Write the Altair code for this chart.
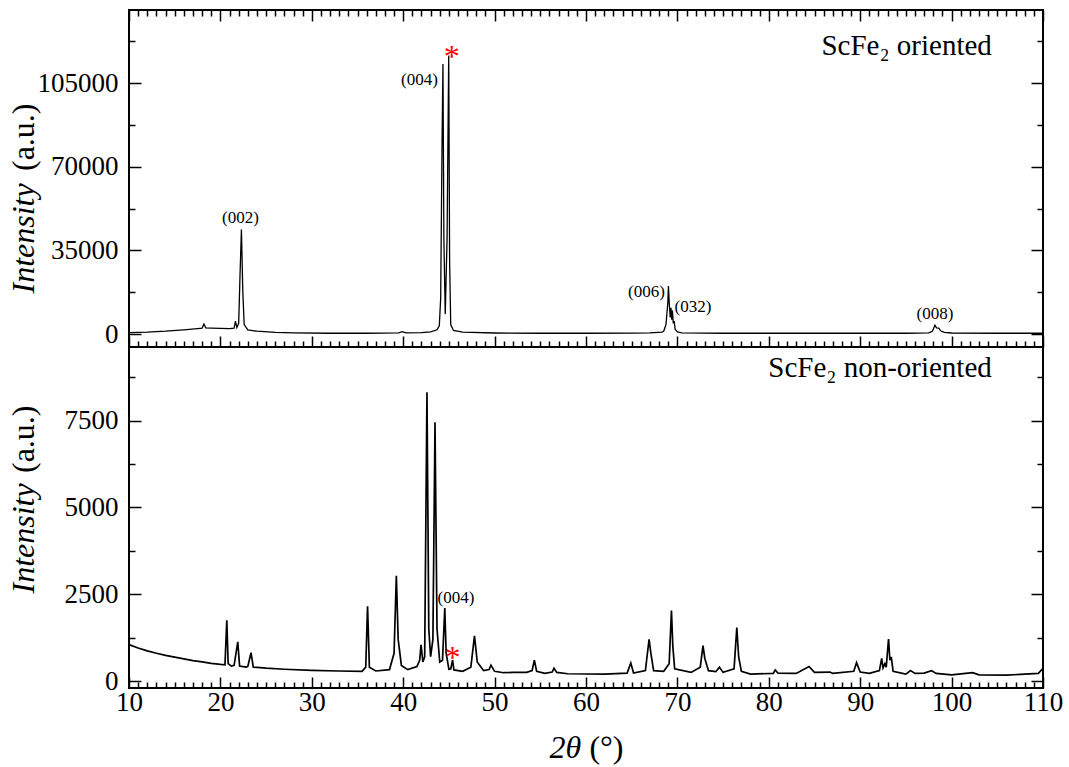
import altair as alt
import pandas as pd

FONT = "Liberation Serif"

# ---------------- ScFe2 oriented (top panel) ----------------
ori_x = [10.0, 12.0, 14.0, 16.0, 17.5, 18.0, 18.2, 18.4, 19.0, 20.0,
         21.0, 21.5, 21.65, 21.8, 22.0, 22.15, 22.3, 22.45, 22.6, 23.0,
         24.0, 26.0, 28.0, 32.0, 36.0, 39.5, 39.9, 40.3, 42.0, 43.0,
         43.7, 43.95, 44.1, 44.25, 44.35, 44.45, 44.6, 44.8, 44.98, 45.08,
         45.2, 45.5, 46.5, 50.0, 55.0, 60.0, 65.0, 67.0, 68.3, 68.5,
         68.75, 68.95, 69.02, 69.12, 69.22, 69.3, 69.38, 69.45, 69.55, 69.65,
         69.75, 70.0, 70.5, 75.0, 85.0, 95.0, 97.5, 97.9, 98.18, 98.35,
         98.6, 98.8, 99.2, 100.0, 105.0, 110.0]
ori_y = [600, 800, 1200, 1800, 2300, 2500, 4200, 2600, 2500, 2400,
         2300, 2500, 5400, 2700, 4500, 25000, 43800, 18000, 4000, 1800,
         1200, 700, 500, 350, 350, 500, 1000, 550, 650, 900,
         1800, 3500, 15000, 80000, 113000, 40000, 8300, 40000, 116600, 30000,
         4000, 1500, 800, 450, 350, 350, 400, 500, 800, 1200,
         4000, 13000, 20100, 12000, 7000, 11000, 6000, 10000, 4500, 5500,
         2000, 900, 500, 350, 350, 350, 500, 1200, 3700, 2600,
         2500, 1400, 700, 450, 350, 350]

# ---------------- ScFe2 non-oriented (bottom panel) ----------------
non_x = [10.0, 11.0, 12.0, 13.0, 14.0, 15.0, 16.0, 17.0, 18.0, 19.0,
         20.0, 20.5, 20.7, 20.85, 21.2, 21.5, 21.9, 22.1, 22.8, 23.0,
         23.35, 23.6, 25.0, 27.0, 30.0, 33.0, 35.5, 35.9, 36.1, 36.3,
         37.0, 38.5, 39.0, 39.25, 39.45, 39.8, 40.5, 41.5, 41.8, 41.95,
         42.15, 42.35, 42.6, 42.8, 43.0, 43.25, 43.48, 43.7, 44.0, 44.3,
         44.55, 44.7, 45.0, 45.2, 45.4, 45.55, 46.5, 47.4, 47.8, 48.1,
         48.8, 49.4, 49.6, 50.0, 51.0, 52.0, 53.5, 54.1, 54.35, 54.6,
         55.5, 56.3, 56.5, 56.8, 58.0, 62.0, 64.5, 64.9, 65.2, 66.5,
         66.9, 67.1, 67.4, 68.5, 69.1, 69.35, 69.5, 69.7, 71.5, 72.5,
         72.8, 73.0, 73.4, 74.2, 74.6, 75.0, 76.2, 76.5, 76.7, 77.0,
         78.0, 80.5, 80.7, 81.0, 83.0, 84.4, 85.0, 86.7, 87.0, 89.3,
         89.6, 90.0, 91.0, 92.1, 92.35, 92.5, 92.7, 92.85, 93.1, 93.25,
         93.4, 93.6, 95.0, 95.5, 96.0, 97.0, 97.8, 98.3, 100.0, 102.3,
         103.0, 106.0, 108.0, 109.5, 110.0]
non_y = [1050, 950, 870, 800, 740, 690, 640, 590, 550, 510,
         480, 470, 1750, 500, 430, 450, 1130, 430, 400, 420,
         820, 400, 370, 340, 310, 290, 280, 400, 2150, 400,
         290, 330, 800, 3030, 1200, 450, 330, 420, 600, 1040,
         550, 700, 8320, 1500, 700, 1200, 7450, 1500, 550, 600,
         2100, 800, 340, 350, 600, 320, 280, 400, 1300, 550,
         300, 330, 460, 280, 240, 250, 250, 300, 600, 280,
         220, 260, 370, 250, 210, 200, 230, 520, 230, 300,
         1200, 800, 300, 280, 500, 2030, 1000, 350, 250, 400,
         1020, 650, 300, 270, 400, 250, 350, 1540, 700, 280,
         200, 220, 320, 230, 220, 420, 250, 260, 220, 280,
         530, 260, 220, 300, 650, 380, 500, 400, 1210, 600,
         700, 280, 200, 300, 220, 230, 300, 220, 180, 240,
         180, 170, 200, 220, 370]

# ---------------- axes ----------------
x_major = [10, 20, 30, 40, 50, 60, 70, 80, 90, 100, 110]
x_minor = [v for v in range(11, 110) if v % 10 != 0]
ori_major = [0, 35000, 70000, 105000]
ori_minor = [17500, 52500, 87500, 122500]
non_major = [0, 2500, 5000, 7500]
non_minor = [1250, 3750, 6250, 8750]
ori_domain = [-5400, 135600]
non_domain = [-200, 9620]

# ---------------- annotations ----------------
ori_lab_text = ["(002)", "(004)", "(006)", "(032)", "(008)"]
ori_lab_x = [22.2, 41.78, 66.62, 71.71, 98.18]
ori_lab_y = [48400, 106180, 17520, 11140, 8340]
ori_star_x = [45.3]
ori_star_y = [117650]
non_lab_text = ["(004)"]
non_lab_x = [45.78]
non_lab_y = [2386]
non_star_x = [45.4]
non_star_y = [780]
names = ["ScFe\u2082 oriented", "ScFe\u2082 non-oriented"]
name_x = [104.4, 104.4]
name_y = [116800, 8770]


def axis(orient, values, size, labels=False, **kw):
    kw.setdefault("title", None)
    return alt.Axis(orient=orient, values=values,
                    tickSize=alt.ExprRef(expr=str(-size)),
                    ticks=True, domain=False, grid=False, labels=labels,
                    tickColor="black", tickWidth=1.5, labelFlush=False, **kw)


def label_style():
    return dict(labelFont=FONT, labelFontSize=27, labelColor="black", format="d")


def title_style(italic):
    return dict(titleFont=FONT, titleFontSize=32, titleFontWeight="normal",
                titleFontStyle="italic" if italic else "normal", titleColor="black")


def panel(xs, ys, ydom, ymaj, ymin, bottom, height, labs, star, name,
          ytitle_y1, ytitle_y2, lw):
    df = pd.DataFrame({"x": xs, "y": ys})
    xsc = alt.Scale(domain=[10, 110], nice=False, zero=False)
    ysc = alt.Scale(domain=ydom, nice=False, zero=False)
    base = alt.Chart(df)

    if bottom:
        xa1 = axis("bottom", x_major, 11, labels=True, labelPadding=12,
                   title="2\u03b8", titleX=420, titleY=69, titleAlign="left",
                   titleBaseline="alphabetic", titleAngle=0,
                   **label_style(), **title_style(True))
        xa2 = axis("bottom", x_minor, 6, title="(\u00b0)", titleX=494, titleY=69,
                   titleAlign="right", titleBaseline="alphabetic", titleAngle=0,
                   **title_style(False))
    else:
        xa1 = axis("bottom", x_major, 11)
        xa2 = axis("bottom", x_minor, 6)

    ya1 = axis("left", ymaj, 12, labels=True, labelPadding=23,
               title="Intensity", titleX=-96, titleY=ytitle_y1, titleAlign="left",
               titleBaseline="alphabetic", titleAngle=270,
               **label_style(), **title_style(True))
    ya2 = axis("left", ymin, 6, title="(a.u.)", titleX=-96, titleY=ytitle_y2,
               titleAlign="right", titleBaseline="alphabetic", titleAngle=270,
               **title_style(False))

    l1 = base.mark_line(color="black", strokeWidth=lw).encode(
        x=alt.X("x:Q", scale=xsc, axis=xa1),
        y=alt.Y("y:Q", scale=ysc, axis=ya1))
    l2 = base.mark_line(color="black", strokeOpacity=0).encode(
        x=alt.X("x:Q", scale=xsc, axis=xa2),
        y=alt.Y("y:Q", scale=ysc, axis=ya2))
    l3 = base.mark_line(color="black", strokeOpacity=0).encode(
        x=alt.X("x:Q", scale=xsc, axis=None if bottom else axis("top", x_major, 11)),
        y=alt.Y("y:Q", scale=ysc, axis=axis("right", ymaj, 12)))
    l4 = base.mark_line(color="black", strokeOpacity=0).encode(
        x=alt.X("x:Q", scale=xsc, axis=None if bottom else axis("top", x_minor, 6)),
        y=alt.Y("y:Q", scale=ysc, axis=axis("right", ymin, 6)))

    t1 = alt.Chart(labs).mark_text(font=FONT, fontSize=17, color="black",
                                   align="center", baseline="middle").encode(
        x=alt.X("x:Q", scale=xsc, axis=None),
        y=alt.Y("y:Q", scale=ysc, axis=None),
        text="t:N")
    t2 = alt.Chart(star).mark_text(font=FONT, fontSize=32, color="#ff0000",
                                   align="center", baseline="middle", dy=4).encode(
        x=alt.X("x:Q", scale=xsc, axis=None),
        y=alt.Y("y:Q", scale=ysc, axis=None),
        text="t:N")
    t3 = alt.Chart(name).mark_text(font=FONT, fontSize=29, color="black",
                                   align="right", baseline="alphabetic").encode(
        x=alt.X("x:Q", scale=xsc, axis=None),
        y=alt.Y("y:Q", scale=ysc, axis=None),
        text="t:N")

    return alt.layer(l1, l2, l3, l4, t1, t2, t3).resolve_axis(
        x="independent", y="independent").properties(width=914, height=height)


top = panel(ori_x, ori_y, ori_domain, ori_major, ori_minor, False, 337,
            pd.DataFrame({"t": ori_lab_text, "x": ori_lab_x, "y": ori_lab_y}),
            pd.DataFrame({"t": ["*"], "x": ori_star_x, "y": ori_star_y}),
            pd.DataFrame({"t": [names[0]], "x": [name_x[0]], "y": [name_y[0]]}),
            283, 93, 1.3)
bot = panel(non_x, non_y, non_domain, non_major, non_minor, True, 341,
            pd.DataFrame({"t": non_lab_text, "x": non_lab_x, "y": non_lab_y}),
            pd.DataFrame({"t": ["*"], "x": non_star_x, "y": non_star_y}),
            pd.DataFrame({"t": [names[1]], "x": [name_x[1]], "y": [name_y[1]]}),
            246, 58, 1.7)

chart = alt.vconcat(top, bot, spacing=0, bounds="flush").properties(
    padding={"left": 6, "top": 8, "right": 5, "bottom": 5},
    background="white",
).configure_view(stroke="black", strokeWidth=2)

chart.save("out.html", embed_options={"renderer": "svg", "actions": False})
